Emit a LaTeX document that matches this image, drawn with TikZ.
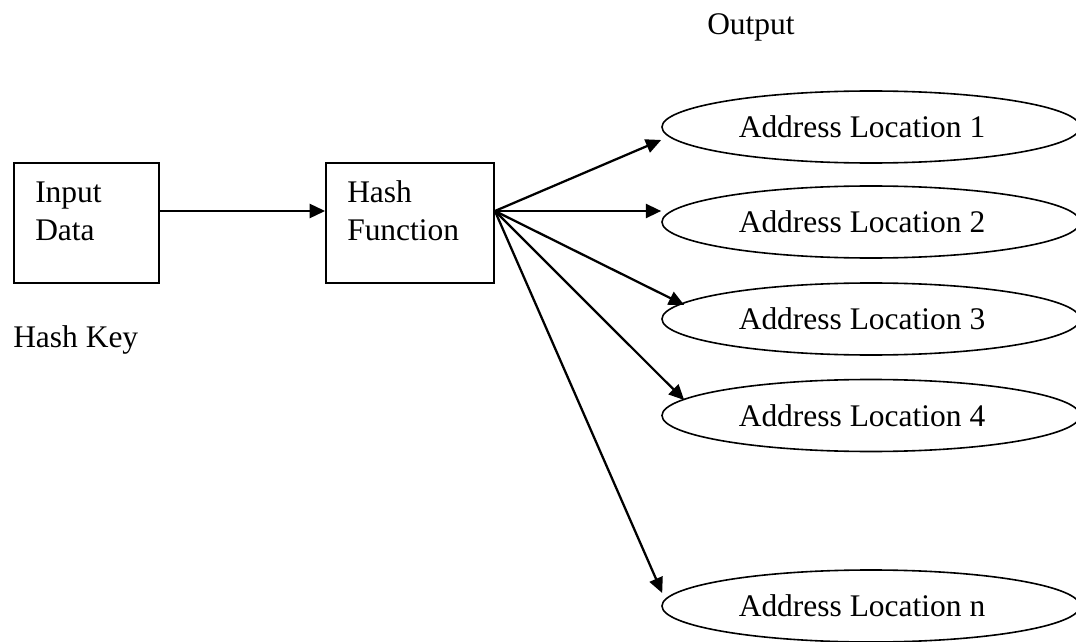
\documentclass[tikz,border=0pt]{standalone}
\usepackage{fontspec}
\setmainfont{Liberation Serif}
\usetikzlibrary{arrows.meta,shapes.geometric}
\begin{document}
\begin{tikzpicture}[x=0.75pt,y=-0.75pt,
  font=\fontsize{23.6}{27.75}\selectfont,
  box/.style={draw,line width=1.4pt,inner sep=0pt},
  oval/.style={draw,ellipse,line width=1.2pt,inner sep=0pt,minimum width=313.5pt,minimum height=54pt},
  txt/.style={inner sep=0pt,anchor=base west},
  arr/.style={line width=1.7pt,-{Triangle[length=11.5pt,width=10.5pt]}}]
\useasboundingbox (0,0) rectangle (1076,642);
% boxes
\node[box,minimum width=108.75pt,minimum height=90pt] (in) at (86.5,223) {};
\node[box,minimum width=126pt,minimum height=90pt] (h) at (410,223) {};
\node[txt] (t1) at (35,203) {Input};
\node[txt] (t2) at (35,240) {Data};
\node[txt] (t3) at (347,203) {Hash};
\node[txt] (t4) at (347,240) {Function};
\node[txt] (key) at (13,347) {Hash Key};
\node[txt] (out) at (707,35) {Output};
% ellipses
\node[oval] (a1) at (871,127) {Address Location 1\kern13.5pt};
\node[oval] (a2) at (871,222) {Address Location 2\kern13.5pt};
\node[oval] (a3) at (871,319) {Address Location 3\kern13.5pt};
\node[oval] (a4) at (871,415.5) {Address Location 4\kern13.5pt};
\node[oval] (an) at (871,606) {Address Location n\kern13.5pt};
% connectors
\coordinate (src) at ([yshift=9pt]h.east);
\draw[arr] ([yshift=9pt]in.east) -- ([yshift=9pt]h.west);
\draw[arr] (src) -- ([yshift=-9.75pt]a1.west);
\draw[arr] (src) -- ([yshift=8.25pt]a2.west);
\draw[arr] (src) -- ([shift={(17.25pt,10.5pt)}]a3.west);
\draw[arr] (src) -- ([shift={(17.25pt,11.6pt)}]a4.west);
\draw[arr] (src) -- ([shift={(0.75pt,9.75pt)}]an.west);
\end{tikzpicture}
\end{document}
